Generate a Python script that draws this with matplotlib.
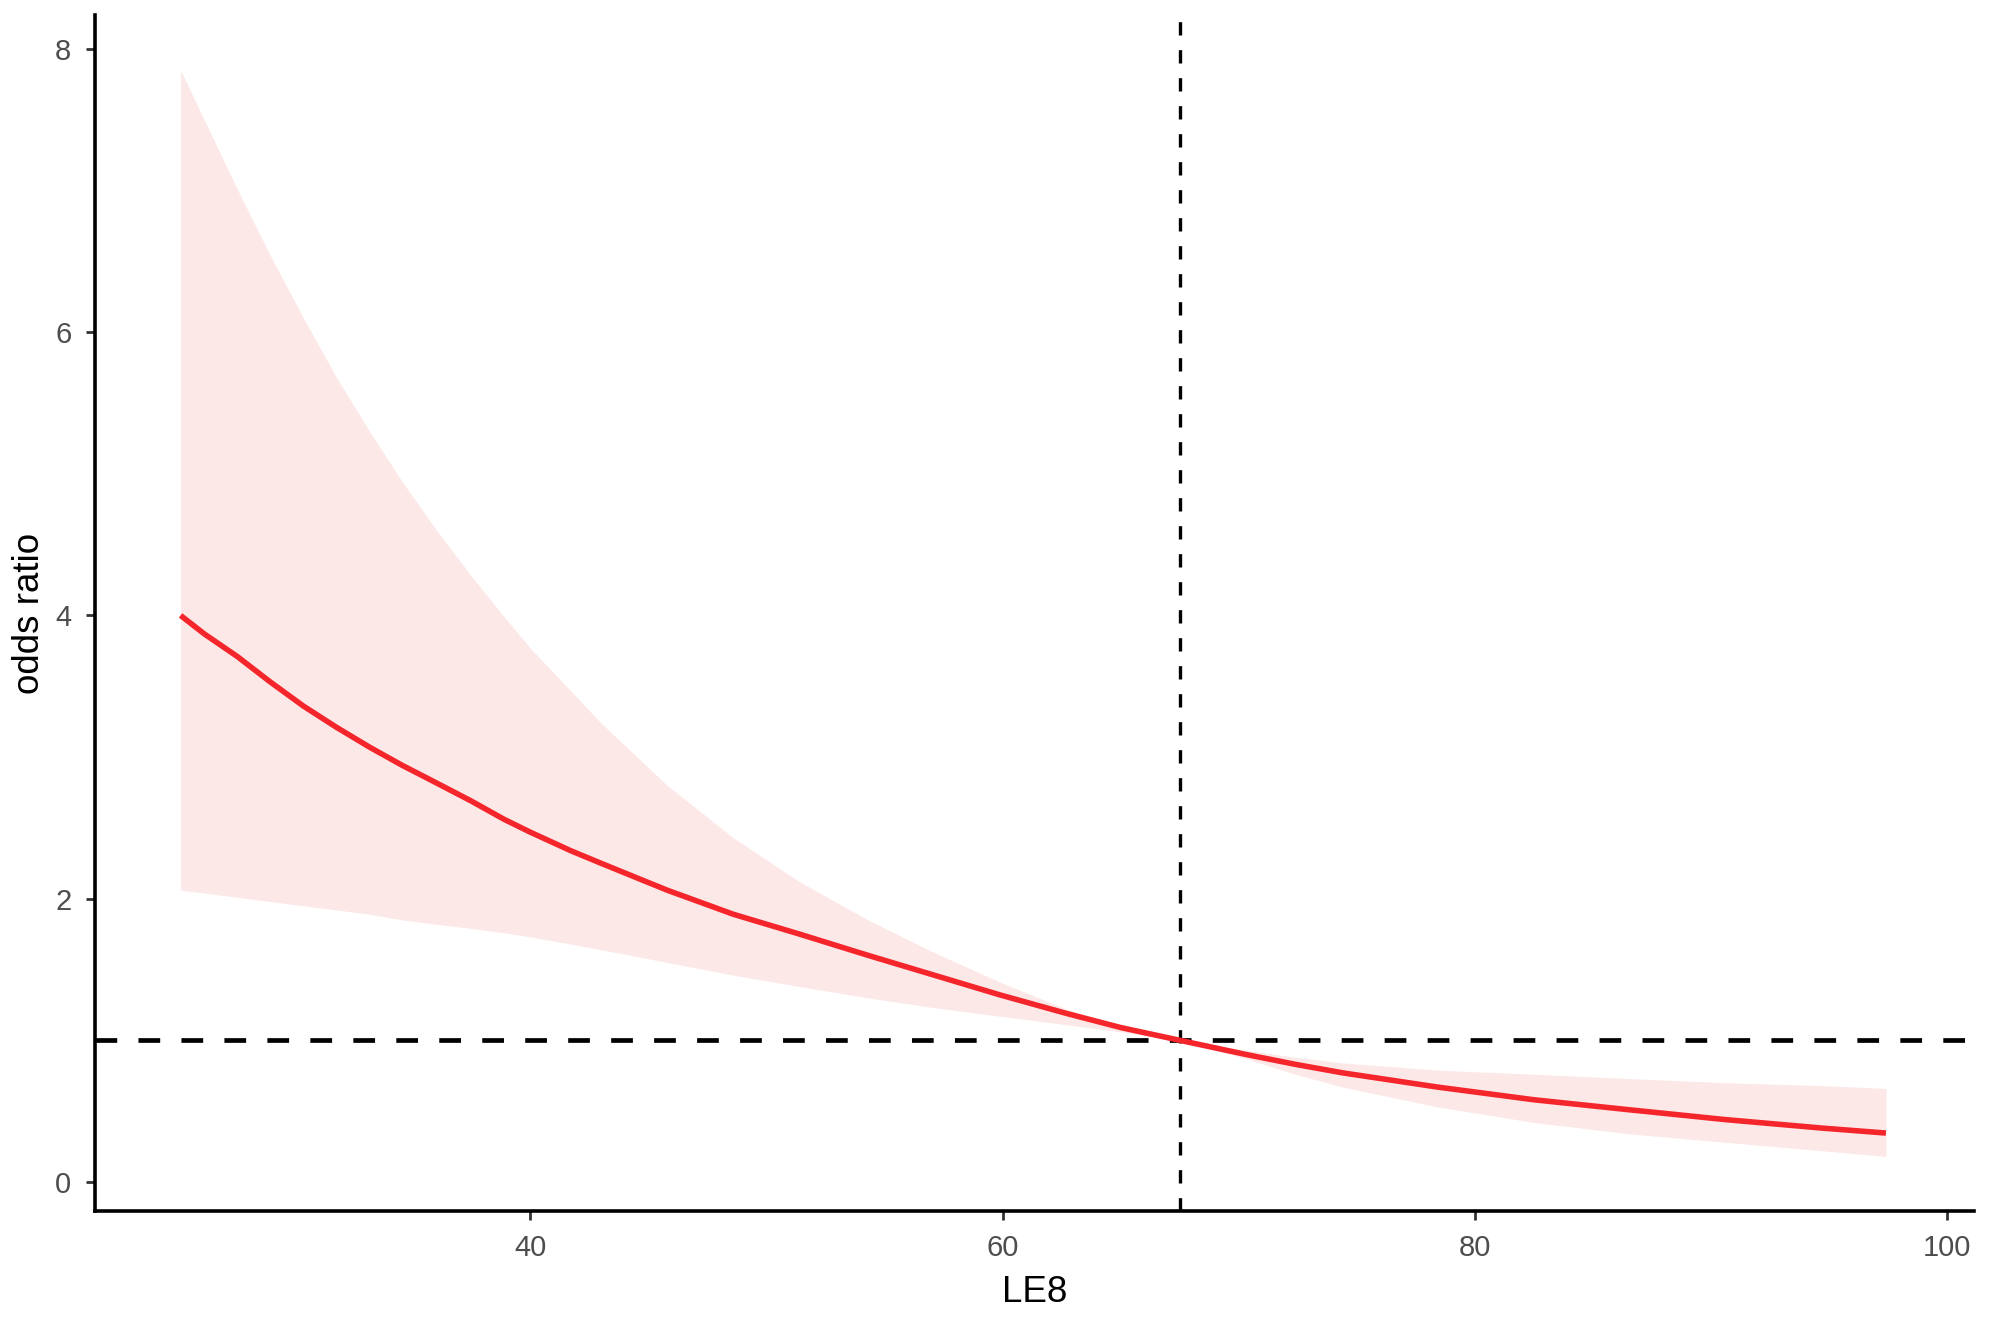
import matplotlib
matplotlib.use("Agg")
import matplotlib.pyplot as plt

plt.rcParams['font.family'] = ['Liberation Sans', 'DejaVu Sans']

# LE8 score grid
le8 = [25.2, 26.2, 27.6, 29.0, 30.4, 31.8, 33.2, 34.6, 36.0, 37.5, 38.9, 40.0,
       41.7, 43.0, 45.8, 48.6, 51.4, 54.3, 57.1, 59.9, 62.7, 65.0, 67.5,
       70.3, 72.4, 74.4, 78.4, 82.5, 86.5, 90.6, 94.7, 97.4]
# odds ratio estimate
odds_ratio = [4.00, 3.87, 3.71, 3.53, 3.36, 3.21, 3.07, 2.94, 2.82, 2.69, 2.56, 2.47,
              2.34, 2.25, 2.06, 1.89, 1.75, 1.60, 1.46, 1.32, 1.19, 1.09, 1.00,
              0.90, 0.83, 0.77, 0.67, 0.58, 0.51, 0.44, 0.38, 0.345]
# upper confidence limit
upper = [7.85, 7.50, 7.01, 6.54, 6.10, 5.68, 5.30, 4.94, 4.61, 4.28, 3.99, 3.77,
         3.47, 3.24, 2.80, 2.43, 2.12, 1.85, 1.62, 1.41, 1.22, 1.10, 1.00,
         0.93, 0.88, 0.84, 0.79, 0.76, 0.73, 0.70, 0.68, 0.66]
# lower confidence limit
lower = [2.06, 2.04, 2.01, 1.98, 1.95, 1.92, 1.89, 1.85, 1.82, 1.79, 1.76, 1.73,
         1.68, 1.64, 1.55, 1.46, 1.38, 1.30, 1.23, 1.17, 1.11, 1.06, 1.00,
         0.87, 0.76, 0.67, 0.53, 0.42, 0.34, 0.28, 0.22, 0.18]

ref_x = 67.5
ref_y = 1.0
x_ticks = [40, 60, 80, 100]
y_ticks = [0, 2, 4, 6, 8]

fig = plt.figure(figsize=(19.89, 13.22), dpi=100)
ax = fig.add_axes([0.0478, 0.084, 0.9447, 0.9047])

ax.fill_between(le8, lower, upper, color='#FDE8E8', linewidth=0, zorder=1)
ax.plot(le8, odds_ratio, color='#F5262B', linewidth=4.0, zorder=3,
        solid_capstyle='butt')
ax.axhline(ref_y, color='black', linewidth=3.4, linestyle=(0, (4.6, 4.5)), zorder=2)
ax.axvline(ref_x, color='black', linewidth=2.4, linestyle=(0, (4.0, 4.4)), zorder=2)

ax.set_xlim(21.58, 101.13)
ax.set_ylim(-0.205, 8.24)
ax.set_xticks(x_ticks)
ax.set_yticks(y_ticks)

for s in ['top', 'right']:
    ax.spines[s].set_visible(False)
for s in ['left', 'bottom']:
    ax.spines[s].set_color('black')
    ax.spines[s].set_linewidth(2.6)

ax.tick_params(axis='both', direction='out', length=6.6, width=2.0,
               color='#333333', labelcolor='#4D4D4D', labelsize=21)
ax.tick_params(axis='x', pad=10)
ax.tick_params(axis='y', pad=10.5)

ax.set_xlabel('LE8', fontsize=26.5, color='black', labelpad=9.5)
ax.set_ylabel('odds ratio', fontsize=26.5, color='black', labelpad=5.5)

fig.savefig('out.png', dpi=100, facecolor='white')
